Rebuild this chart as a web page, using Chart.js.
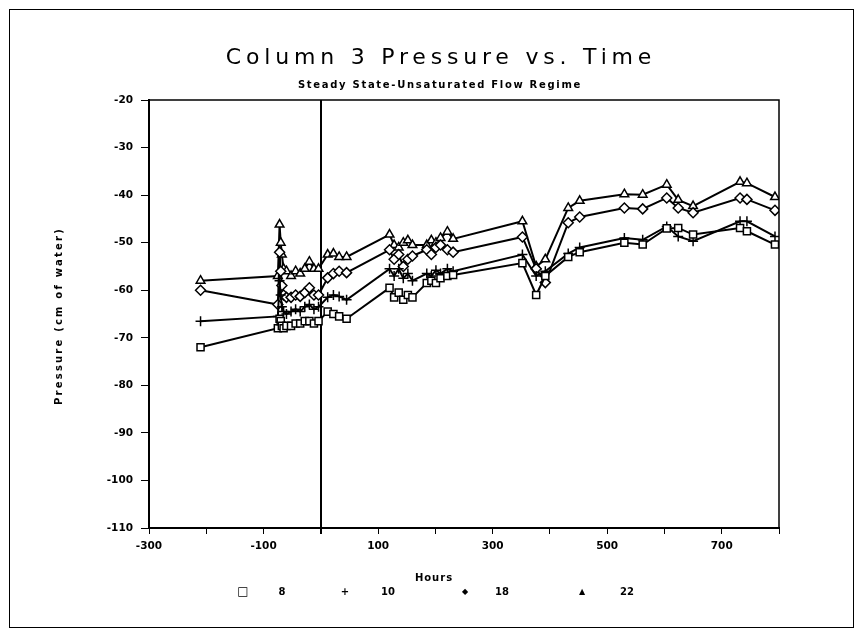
<!DOCTYPE html>
<html>
<head>
<meta charset="utf-8">
<script src="https://cdn.jsdelivr.net/npm/chart.js@4.4.1/dist/chart.umd.min.js"></script>
<style>
  html, body { margin: 0; padding: 0; background: #fff; }
  #wrap { position: relative; width: 864px; height: 636px; overflow: hidden; }
  #frame { position: absolute; left: 9px; top: 9px; width: 843px; height: 617px; border: 1.5px solid #000; }
  canvas { position: absolute; left: 0; top: 0; }
  .txt { position: absolute; white-space: nowrap; color: #000; font-family: "DejaVu Sans", sans-serif; transform: translate(-50%, -50%); }
  #title { left: 441px; top: 56px; font-size: 22px; letter-spacing: 4.8px; }
  #subtitle { left: 440px; top: 84px; font-size: 10px; letter-spacing: 1.7px; font-weight: bold; }
  #ytitle { left: 58px; top: 316px; font-size: 10px; letter-spacing: 2.2px; font-weight: bold; transform: translate(-50%, -50%) rotate(-90deg); }
  #xtitle { left: 434px; top: 577px; font-size: 10px; font-weight: bold; letter-spacing: 1px; }
  .leg { top: 591px; font-size: 10px; font-weight: bold; }
</style>
</head>
<body>
<div id="wrap">
  <canvas id="chart" width="864" height="636"></canvas>
  <div id="frame"></div>
  <div id="title" class="txt">Column 3 Pressure vs. Time</div>
  <div id="subtitle" class="txt">Steady State-Unsaturated Flow Regime</div>
  <div id="ytitle" class="txt">Pressure (cm of water)</div>
  <div id="xtitle" class="txt">Hours</div>
  <div id="legend"></div>
</div>
<script>
// Time axis (hours) shared by all four tensiometers
const hours = [-210, -75, -72, -70, -68, -65, -60, -52, -44, -36, -28, -20, -12, -4,
    12, 22, 32, 45, 120, 128, 136, 144, 152, 160, 185, 193, 201, 209, 221, 231,
    352, 376, 392, 432, 452, 530, 562, 604, 624, 650, 732, 744, 793];

// Pressure (cm of water) per depth
const depth8 = [-72, -68, -66, -66.5, -67.5, -68, -67.5, -67.5, -67, -67, -66.5, -66.5, -67, -66.5,
    -64.5, -65, -65.5, -66, -59.5, -61.5, -60.5, -62, -61, -61.5, -58.5, -58, -58.5, -57.5, -57, -56.8,
    -54.3, -61, -57, -53, -52, -50, -50.4, -47, -46.9, -48.3, -46.9, -47.6, -50.4];
const depth10 = [-66.5, -65.5, -58, -61, -63.5, -64.5, -65, -64.5, -64, -64.5, -63.5, -63, -64, -63.5,
    -61.5, -61, -61.3, -62, -55.5, -57, -55.5, -57.5, -56.5, -58, -56.5, -57, -55.8, -56.5, -55.5, -56,
    -52.5, -57, -56, -52.3, -51, -49, -49.4, -46.6, -48.7, -49.7, -45.5, -45.5, -48.7];
const depth18 = [-60, -63, -52, -56, -59, -61, -61.5, -61.5, -61, -61.3, -60.5, -59.5, -61, -61,
    -57.4, -56.5, -56, -56.3, -51.5, -53.5, -52.5, -55, -53.5, -52.8, -51.5, -52.5, -51, -50.5, -51.5, -52,
    -48.8, -55.5, -58.4, -45.8, -44.6, -42.7, -42.9, -40.6, -42.7, -43.7, -40.6, -40.9, -43.2];
const depth22 = [-58, -57, -46.2, -50, -52.5, -55.5, -56, -57, -56, -56.5, -55.5, -54, -55.5, -55.5,
    -52.5, -52.3, -53, -53, -48.3, -50.5, -51, -50, -49.5, -50.5, -50.5, -49.5, -50, -49, -47.7, -49.2,
    -45.5, -55, -53.5, -42.7, -41.2, -39.8, -39.9, -37.8, -41, -42.3, -37.2, -37.5, -40.4];

const seriesNames = ['8', '10', '18', '22'];
const seriesValues = [depth8, depth10, depth18, depth22];
const markerStyles = ['rect', 'cross', 'rectRot', 'triangle'];
const legendGlyphs = ['\u25A1', '+', '\u25C6', '\u25B2'];
const legendX = [[243, 282], [345, 388], [465, 502], [582, 627]];

const xTicksLabelled = [-300, -100, 100, 300, 500, 700];

// Build HTML legend
function buildLegend() {
    const box = document.getElementById('legend');
    seriesNames.forEach((name, i) => {
        const g = document.createElement('div');
        g.className = 'txt leg';
        g.style.left = legendX[i][0] + 'px';
        g.textContent = legendGlyphs[i];
        if (i === 0) g.style.fontSize = '12px';
        if (i >= 2) g.style.fontSize = '8px';
        box.appendChild(g);
        const t = document.createElement('div');
        t.className = 'txt leg';
        t.style.left = legendX[i][1] + 'px';
        t.textContent = name;
        box.appendChild(t);
    });
}

// Frame around the plot area
const plotFrame = {
    id: 'plotFrame',
    afterDraw(chart) {
        const { ctx, chartArea: a } = chart;
        ctx.save();
        ctx.strokeStyle = '#000';
        ctx.lineWidth = 1.5;
        ctx.strokeRect(a.left, a.top, a.right - a.left, a.bottom - a.top);
        ctx.restore();
    }
};

function createChart() {
    const ctx = document.getElementById('chart').getContext('2d');
    Chart.defaults.font.family = '"DejaVu Sans", sans-serif';
    Chart.defaults.color = '#000';

    const datasets = seriesValues.map((vals, i) => ({
        label: seriesNames[i],
        data: hours.map((h, j) => ({ x: h, y: vals[j] })),
        borderColor: '#000',
        borderWidth: 2,
        pointStyle: markerStyles[i],
        pointRadius: 5,
        pointBorderWidth: 1.5,
        pointBorderColor: '#000',
        pointBackgroundColor: '#fff',
        tension: 0,
        fill: false
    }));

    new Chart(ctx, {
        type: 'line',
        data: { datasets: datasets },
        options: {
            responsive: false,
            animation: false,
            layout: { padding: { left: 0, right: 85, top: 100, bottom: 0 } },
            plugins: {
                legend: { display: false },
                title: { display: false },
                tooltip: { enabled: false }
            },
            scales: {
                x: {
                    type: 'linear',
                    min: -300,
                    max: 800,
                    afterFit: s => { s.height = 108; },
                    ticks: {
                        stepSize: 100,
                        padding: 6,
                        maxRotation: 0,
                        autoSkip: false,
                        font: { size: 10.5, weight: 'bold' },
                        callback: v => xTicksLabelled.includes(v) ? String(v) : ''
                    },
                    border: { color: '#000', width: 2 },
                    grid: {
                        drawOnChartArea: true,
                        color: c => (c.tick && c.tick.value === 0) ? '#000' : 'rgba(0,0,0,0)',
                        lineWidth: c => (c.tick && c.tick.value === 0) ? 2 : 1,
                        tickColor: '#000',
                        tickLength: 6
                    }
                },
                y: {
                    min: -110,
                    max: -20,
                    afterFit: s => { s.width = 149; },
                    ticks: {
                        stepSize: 10,
                        padding: 8,
                        font: { size: 10.5, weight: 'bold' }
                    },
                    border: { color: '#000', width: 2 },
                    grid: {
                        drawOnChartArea: false,
                        tickColor: '#000',
                        tickLength: 8
                    }
                }
            }
        },
        plugins: [plotFrame]
    });
}

document.addEventListener('DOMContentLoaded', () => {
    buildLegend();
    createChart();
});
</script>
</body>
</html>
